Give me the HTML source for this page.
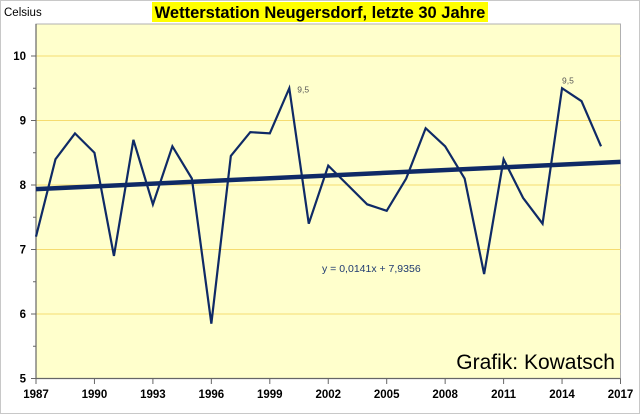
<!DOCTYPE html>
<html><head><meta charset="utf-8"><style>
body{margin:0;background:#fff;}
svg{display:block;font-family:"Liberation Sans",sans-serif;}
</style></head><body>
<svg id="chart" width="640" height="414">
<rect x="0.5" y="0.5" width="639" height="413" fill="#fff" stroke="#c8c8c8"/>
<rect x="36" y="24" width="584.5" height="354.5" fill="#ffffcc" stroke="#b0b0b0"/>
<rect x="152" y="2" width="336" height="20" fill="#ffff00"/>
<text x="320" y="18" text-anchor="middle" font-size="16.5" font-weight="bold" fill="#000">Wetterstation Neugersdorf, letzte 30 Jahre</text>
<text x="4" y="16" font-size="11.5" fill="#000">Celsius</text>
<g id="grid"></g><g id="axes"></g><g id="series"></g>
<text x="322" y="272" font-size="10.5" fill="#1f3a70">y = 0,0141x + 7,9356</text>
<text x="615" y="369" text-anchor="end" font-size="21" fill="#000">Grafik: Kowatsch</text>
</svg>
<script>
const years=[1987,1988,1989,1990,1991,1992,1993,1994,1995,1996,1997,1998,1999,2000,2001,2002,2003,2004,2005,2006,2007,2008,2009,2010,2011,2012,2013,2014,2015,2016];
const temps=[7.2,8.4,8.8,8.5,6.9,8.7,7.7,8.6,8.1,5.85,8.45,8.82,8.8,9.5,7.4,8.3,8.0,7.7,7.6,8.1,8.88,8.6,8.1,6.62,8.4,7.8,7.4,9.5,9.3,8.6];
const yTicks=[5,6,7,8,9,10];
const xTicks=[1987,1990,1993,1996,1999,2002,2005,2008,2011,2014,2017];
const trendSlope=0.0141, trendIntercept=7.9356;
const peakLabels=[{year:2000,text:"9,5"},{year:2014,text:"9,5"}];
const NS="http://www.w3.org/2000/svg";
const X=y=>36+(y-1987)*(584.5/30);
const Y=v=>378.5-(v-5)*64.5;
function mk(tag,attrs,parent){const e=document.createElementNS(NS,tag);for(const k in attrs)e.setAttribute(k,attrs[k]);parent.appendChild(e);return e;}
const grid=document.getElementById('grid'),axes=document.getElementById('axes'),ser=document.getElementById('series');
yTicks.forEach(t=>{
 if(t>5){const g=mk('line',{x1:36,x2:620.5,y1:Y(t),y2:Y(t),stroke:'#f5dc70','stroke-width':1},grid);
 
 }
 mk('line',{x1:31,x2:36,y1:Y(t),y2:Y(t),stroke:'#666'},axes);
 if(t<10)mk('line',{x1:33,x2:36,y1:Y(t+0.5),y2:Y(t+0.5),stroke:'#666'},axes);
 const l=mk('text',{x:26,y:Y(t)+4,'text-anchor':'end','font-size':11.5,'font-weight':'bold',fill:'#000'},axes);l.textContent=t;
 
 
});
mk('line',{x1:36,x2:36,y1:24,y2:378.5,stroke:'#666','stroke-width':1.2},axes);
mk('line',{x1:36,x2:620.5,y1:378.5,y2:378.5,stroke:'#666','stroke-width':1.2},axes);
xTicks.forEach(t=>{
 mk('line',{x1:X(t),x2:X(t),y1:378.5,y2:384,stroke:'#666'},axes);
 const l=mk('text',{x:X(t),y:398,'text-anchor':'middle','font-size':11.5,'font-weight':'bold',fill:'#000'},axes);l.textContent=t;
 
 
});
const pts=years.map((y,i)=>X(y)+','+Y(temps[i])).join(' ');
const line=mk('polyline',{points:pts,fill:'none',stroke:'#0f2a66','stroke-width':2.2,'stroke-linejoin':'miter'},ser);


const tr=mk('line',{x1:X(1987),y1:Y(trendIntercept),x2:X(2017),y2:Y(trendIntercept+trendSlope*30),stroke:'#0f2a66','stroke-width':4.5},ser);


peakLabels.forEach((p,i)=>{
 const v=temps[years.indexOf(p.year)];
 const t=mk('text',{x:X(p.year)+(i==0?8:0),y:Y(v)+(i==0?4:-5),'font-size':8.5,fill:'#555'},ser);t.textContent=p.text;
 
 
});
</script>
</body></html>
